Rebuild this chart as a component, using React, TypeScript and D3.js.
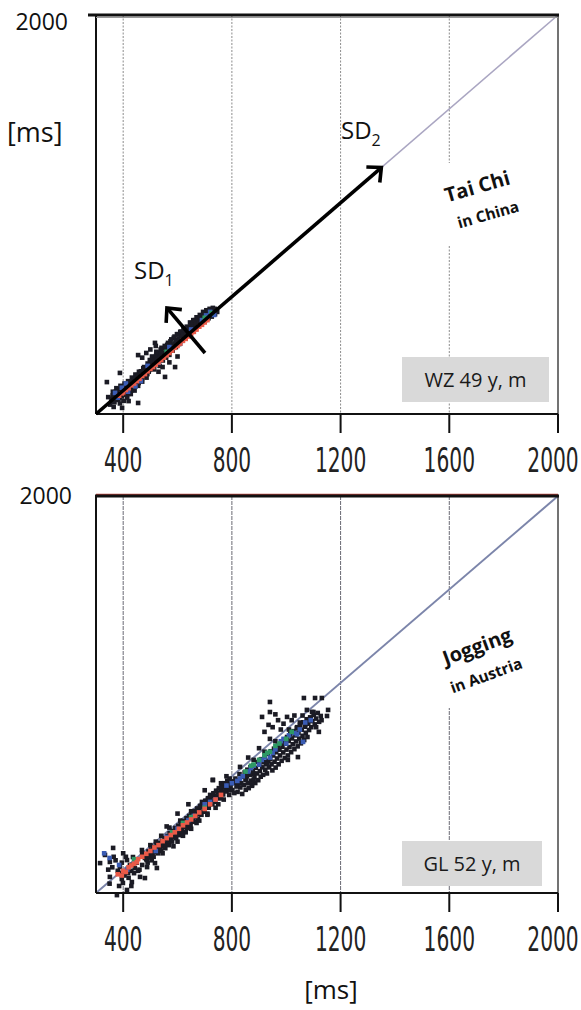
import React, { useEffect, useRef } from 'react'
import * as d3 from 'd3'

const W = 581
const H = 1010

// RR(n) vs RR(n+1) in ms
const rrDomain = [300, 2000]
const xTicks = [400, 800, 1200, 1600, 2000]
const gridValues = [400, 800, 1200, 1600]

const taiChiBeats = [
  [345, 372], [352, 340], [358, 365], [362, 395], [368, 350], [372, 380], [375, 410], [380, 360], [384, 392], [388, 345],
  [390, 420], [395, 375], [398, 402], [402, 356], [405, 430], [408, 388], [412, 410], [415, 370], [418, 440], [420, 398],
  [424, 425], [428, 385], [432, 455], [435, 410], [438, 440], [442, 400], [445, 468], [448, 430], [452, 452], [455, 420],
  [458, 480], [462, 445], [466, 470], [470, 438], [474, 495], [478, 460], [482, 488], [486, 455],
  [340, 436], [388, 475], [396, 326], [455, 347], [455, 551], [517, 603], [554, 458], [591, 500], [365, 330], [420, 355],
  [470, 540], [500, 575], [520, 590], [545, 500], [570, 520], [600, 545], [485, 560], [530, 480],
  [490, 515], [494, 480], [498, 530], [502, 500], [506, 545], [510, 512], [514, 490], [518, 540], [522, 565], [526, 520],
  [530, 550], [534, 505], [538, 575], [542, 545], [546, 528], [550, 580], [554, 560], [558, 540], [562, 595], [566, 575],
  [570, 552], [574, 610], [578, 590], [582, 570], [586, 625], [590, 600], [594, 585], [598, 640], [602, 615], [606, 598],
  [610, 650], [614, 632], [618, 612], [622, 665], [626, 640], [630, 625], [634, 672], [638, 655],
  [642, 640], [646, 690], [650, 668], [654, 650], [658, 700], [662, 680], [666, 662], [670, 712], [674, 695], [678, 675],
  [682, 722], [686, 705], [690, 690], [694, 735], [698, 715], [702, 700], [706, 742], [710, 725], [714, 708], [718, 748],
  [722, 730], [726, 715], [730, 752], [734, 738], [738, 725], [742, 745], [746, 735],
  [356, 352], [361, 378], [367, 363], [373, 395], [378, 372], [383, 405], [387, 366], [393, 389], [397, 418], [401, 381],
  [406, 404], [411, 392], [414, 425], [419, 386], [423, 413], [427, 437], [431, 402], [436, 428], [441, 452], [444, 416],
  [449, 441], [453, 466], [457, 432], [461, 458], [465, 482], [469, 449], [473, 472], [477, 500], [481, 465], [485, 492],
  [489, 470], [493, 505], [497, 488], [501, 520], [505, 498], [509, 531], [513, 508], [517, 525], [521, 548], [525, 532],
  [529, 562], [533, 541], [537, 558], [541, 582], [545, 560], [549, 548], [553, 590], [557, 571], [561, 560], [565, 603],
  [569, 583], [573, 571], [577, 618], [581, 596], [585, 584], [589, 630], [593, 609], [597, 596], [601, 640], [605, 622],
  [609, 610], [613, 651], [617, 628], [621, 642], [625, 657], [629, 636], [633, 660], [637, 646], [641, 670], [645, 655],
  [649, 682], [653, 665], [657, 690], [661, 672], [665, 700], [669, 683], [673, 704], [677, 690], [681, 712], [685, 697],
  [689, 718], [693, 705], [697, 726], [701, 712], [705, 732], [709, 718], [713, 738], [717, 724], [721, 742], [725, 728],
  [729, 745], [733, 730], [737, 748], [741, 736], [744, 742]
]
const taiChiRed = [
  [385, 378], [400, 392], [420, 410], [430, 422], [440, 430], [460, 450], [470, 462], [480, 470], [500, 492], [510, 500],
  [520, 510], [540, 530], [550, 540], [560, 550], [580, 570], [590, 582], [600, 590], [620, 612], [630, 620], [640, 630],
  [660, 650], [670, 660], [680, 672], [690, 680], [700, 690], [710, 700], [395, 388], [410, 402], [450, 440], [490, 482],
  [530, 520], [570, 560], [610, 600], [650, 640]
]
const taiChiBlue = [
  [370, 390], [380, 370], [395, 412], [410, 430], [418, 395], [445, 418], [465, 440], [490, 505], [530, 518], [570, 585],
  [610, 600], [650, 660], [690, 700], [705, 720], [720, 735], [735, 722]
]
const taiChiGreen = [[560, 565], [700, 710], [725, 730]]

const joggingBeats = [
  [363, 493], [333, 463], [315, 428], [351, 433], [388, 411], [414, 441], [436, 454], [469, 484], [517, 428], [524, 407],
  [480, 364], [462, 369], [432, 347], [414, 313], [377, 291], [399, 343], [351, 369], [388, 386], [418, 386], [443, 407],
  [488, 411], [499, 454], [360, 410], [372, 440], [380, 395], [395, 430], [405, 375], [410, 455], [425, 420], [430, 395],
  [450, 430], [455, 395], [470, 420], [485, 445], [395, 360], [420, 365], [440, 385], [460, 400], [345, 400], [365, 455],
  [400, 470], [385, 330], [430, 330], [350, 340],
  [480, 450], [490, 430], [495, 465], [505, 470], [512, 455], [520, 490], [528, 470], [535, 500], [540, 480], [548, 515],
  [555, 492], [560, 530], [568, 505], [575, 545], [580, 520], [588, 555], [595, 535], [600, 570], [608, 548], [615, 585],
  [620, 560], [628, 600], [635, 578], [640, 612], [648, 590], [655, 625], [660, 605], [668, 640], [675, 618], [680, 655],
  [688, 635], [695, 670], [700, 648], [708, 690], [715, 665], [720, 700], [728, 680], [735, 715], [740, 690], [748, 730],
  [755, 705], [760, 742], [768, 722], [775, 755], [780, 735], [788, 768], [795, 748], [800, 778], [505, 440], [545, 470],
  [585, 500], [630, 560], [670, 600], [710, 640], [750, 680], [790, 720], [640, 680], [700, 740], [730, 784], [600, 640],
  [560, 585],
  [600, 520], [620, 545], [650, 575], [680, 610], [710, 635], [740, 665], [770, 700], [790, 740], [610, 610], [650, 650],
  [690, 690], [720, 720], [760, 770], [540, 545], [570, 580], [520, 520], [500, 505], [470, 470], [820, 765], [850, 785],
  [880, 810], [780, 800], [760, 710],
  [483, 462], [487, 441], [493, 478], [498, 452], [503, 486], [508, 463], [511, 497], [516, 475], [523, 506], [527, 484],
  [531, 515], [537, 491], [543, 523], [547, 500], [552, 535], [557, 510], [563, 544], [566, 522], [571, 556], [577, 531],
  [583, 566], [586, 541], [592, 578], [597, 552], [603, 588], [606, 563], [612, 597], [617, 574], [622, 608], [627, 583],
  [633, 620], [637, 594], [643, 630], [646, 604], [652, 641], [657, 616], [662, 651], [666, 626], [672, 662], [677, 638],
  [683, 673], [686, 647], [692, 684], [697, 659], [702, 695], [706, 670], [712, 706], [717, 681], [723, 716], [726, 691],
  [732, 727], [737, 703], [742, 738], [746, 713], [752, 749], [757, 724], [762, 759], [766, 735], [772, 770], [777, 746],
  [783, 781], [786, 756], [792, 790], [797, 767],
  [802, 741], [806, 772], [809, 728], [813, 790], [817, 756], [821, 733], [824, 781], [828, 809], [831, 752], [834, 770],
  [838, 724], [841, 798], [844, 763], [847, 816], [851, 742], [853, 787], [857, 828], [859, 770], [862, 749], [866, 806],
  [868, 838], [871, 781], [874, 759], [877, 822], [879, 846], [883, 797], [886, 771], [888, 836], [892, 812], [894, 861],
  [897, 783], [901, 849], [903, 822], [906, 798], [909, 873], [912, 838], [915, 806], [917, 860], [921, 885], [923, 828],
  [926, 851], [929, 812], [932, 896], [934, 866], [937, 838], [941, 873], [943, 907], [946, 851], [949, 825], [952, 889],
  [955, 918], [957, 862], [961, 837], [963, 903], [966, 876], [969, 931], [972, 851], [975, 914], [977, 889], [981, 944],
  [983, 866], [986, 926], [989, 902], [992, 955], [995, 878], [997, 939], [1001, 914], [1003, 968], [1006, 889], [1009, 951],
  [1012, 925], [1015, 982], [1018, 903], [1021, 962], [1024, 937], [1027, 993], [1030, 916], [1033, 975], [1036, 949], [1039, 1006],
  [1042, 928], [1045, 987], [1048, 961], [1051, 1018], [1054, 941], [1057, 999], [1060, 973], [1063, 1031], [1066, 955], [1069, 1012],
  [1072, 986], [1075, 1044], [1078, 968], [1081, 1025], [1084, 998], [1088, 1052], [1092, 1010], [1096, 1036], [1101, 1063], [1105, 1022],
  [1110, 1047], [1116, 1071], [1121, 1033], [1127, 1058],
  [855, 800], [880, 785], [905, 870], [930, 855], [960, 950], [920, 905], [880, 870], [1040, 1010], [1080, 1040], [1110, 1010],
  [1120, 990], [1130, 1040], [940, 960], [900, 920], [980, 1000], [1020, 1040], [1060, 1060], [1100, 1075], [860, 880], [830, 840],
  [1006, 870], [1043, 882], [920, 990], [950, 1010], [970, 1040], [990, 1025], [1010, 1000], [1030, 1060], [960, 1065], [935, 1020],
  [1050, 1030], [1070, 1020], [1090, 1050],
  [940, 1118], [911, 1054], [940, 1075], [1065, 1135], [1106, 1135], [1131, 1135], [1154, 1084], [1150, 1058], [1076, 1084], [1095, 1075],
  [1003, 1054], [874, 763], [730, 784]
]
const joggingRed = [
  [380, 380], [400, 395], [420, 410], [440, 425], [470, 455], [500, 480], [530, 505], [560, 535], [590, 560], [620, 590],
  [650, 615], [680, 645], [720, 680], [760, 720], [410, 390], [395, 375], [450, 432], [485, 468], [515, 495], [545, 522],
  [575, 548], [605, 575], [635, 602], [665, 630], [700, 660], [740, 700], [430, 418], [455, 445]
]
const joggingBlue = [
  [350, 450], [330, 470], [385, 420], [415, 400], [450, 440], [520, 480], [600, 575], [660, 630], [700, 680], [740, 700],
  [780, 760], [820, 780], [860, 820], [900, 850], [950, 900], [1000, 940], [1050, 1000], [1062, 947], [920, 880], [980, 950],
  [840, 800], [880, 845], [1030, 985], [560, 540], [640, 612], [720, 690], [800, 770], [830, 790], [870, 835], [910, 870],
  [960, 915], [990, 960], [1040, 980], [1070, 1030], [1090, 1040], [940, 880], [1010, 975]
]
const joggingGreen = [
  [440, 445], [620, 600], [700, 665], [900, 870], [920, 890], [940, 905], [960, 930], [880, 850], [1000, 960], [850, 820],
  [870, 845], [930, 900], [975, 940], [1020, 990], [580, 560], [650, 625]
]

const sd2 = [[300, 300], [1350, 1350]]
const sd1 = [[701, 560], [561, 752]]

const FONT = '"Open Sans", "Noto Sans", sans-serif'
const NARROW = '"Liberation Sans Narrow", "DejaVu Sans Condensed", sans-serif'

function arrow (g, x, y, pts) {
  const [a, b] = pts
  const x1 = x(a[0]); const y1 = y(a[1]); const x2 = x(b[0]); const y2 = y(b[1])
  const ang = Math.atan2(y2 - y1, x2 - x1)
  const len = 15
  const spread = Math.PI * 0.24
  g.append('line')
    .attr('x1', x1).attr('y1', y1).attr('x2', x2).attr('y2', y2)
    .attr('stroke', '#000').attr('stroke-width', 3.6)
  g.append('polyline')
    .attr('points', [
      [x2 - len * Math.cos(ang - spread), y2 - len * Math.sin(ang - spread)],
      [x2, y2],
      [x2 - len * Math.cos(ang + spread), y2 - len * Math.sin(ang + spread)]
    ].map(p => p.join(',')).join(' '))
    .attr('fill', 'none').attr('stroke', '#000').attr('stroke-width', 3.6)
    .attr('stroke-linejoin', 'miter')
}

function drawPanel (svg, p) {
  const x = d3.scaleLinear().domain(rrDomain).range([96, 558])
  const y = d3.scaleLinear().domain(rrDomain).range([p.bottom, p.top])
  const g = svg.append('g')

  g.selectAll('line.grid').data(gridValues).join('line')
    .attr('class', 'grid')
    .attr('x1', d => x(d)).attr('x2', d => x(d))
    .attr('y1', y(2000)).attr('y2', y(300))
    .attr('stroke', p.gridColor).attr('stroke-width', 1)
    .attr('stroke-dasharray', p.gridDash)

  // white patch behind the activity label
  g.append('rect')
    .attr('x', 425).attr('y', p.labelBox[0])
    .attr('width', 118).attr('height', p.labelBox[1] - p.labelBox[0])
    .attr('fill', '#fff')

  g.append('line')
    .attr('x1', x(300)).attr('y1', y(300)).attr('x2', x(2000)).attr('y2', y(2000))
    .attr('stroke', p.idColor).attr('stroke-width', p.idWidth)

  const s = 4.6
  const dots = (data, color) => {
    g.append('g').selectAll('rect').data(data).join('rect')
      .attr('x', d => x(d[0]) - s / 2).attr('y', d => y(d[1]) - s / 2)
      .attr('width', s).attr('height', s).attr('fill', color)
  }
  dots(p.beats, '#1b1b24')
  dots(p.blue, '#3a5cb4')
  dots(p.green, '#2e9a66')
  dots(p.red, '#ea5a48')

  // frame
  g.append('line').attr('x1', x(300)).attr('x2', x(300)).attr('y1', p.top).attr('y2', p.bottom)
    .attr('stroke', '#111').attr('stroke-width', 2)
  g.append('line').attr('x1', x(2000)).attr('x2', x(2000)).attr('y1', p.top).attr('y2', p.bottom)
    .attr('stroke', '#444').attr('stroke-width', 1.5)
  g.append('line').attr('x1', x(300)).attr('x2', x(2000)).attr('y1', p.bottom).attr('y2', p.bottom)
    .attr('stroke', '#111').attr('stroke-width', 2)
  g.append('line').attr('x1', x(300)).attr('x2', x(2000)).attr('y1', p.top + p.tintOffset).attr('y2', p.top + p.tintOffset)
    .attr('stroke', p.topTint).attr('stroke-width', 1.2)
  g.append('line').attr('x1', p.topStart).attr('x2', x(2000) + 1).attr('y1', p.top).attr('y2', p.top)
    .attr('stroke', '#111').attr('stroke-width', 3.2)

  g.selectAll('line.tick').data(xTicks).join('line')
    .attr('class', 'tick')
    .attr('x1', d => x(d)).attr('x2', d => x(d))
    .attr('y1', p.bottom).attr('y2', p.bottom + 19)
    .attr('stroke', '#111').attr('stroke-width', 2)

  g.selectAll('g.tl').data(xTicks).join('g')
    .attr('class', 'tl')
    .attr('transform', d => `translate(${Math.min(x(d), 553)},${p.bottom + 58}) scale(0.66,1)`)
    .append('text')
    .attr('text-anchor', 'middle')
    .attr('font-family', NARROW).attr('font-size', 34).attr('fill', '#222')
    .text(d => d)

  g.append('text')
    .attr('x', p.yLabelX).attr('y', p.yLabelBase)
    .attr('text-anchor', 'end')
    .attr('font-family', FONT).attr('font-size', 23).attr('fill', '#111')
    .text('2000')

  const lab = g.append('g')
  lab.append('text')
    .attr('transform', `translate(${p.title[0]},${p.title[1]}) rotate(${p.rot})`)
    .attr('text-anchor', 'middle').attr('dominant-baseline', 'central')
    .attr('font-family', FONT).attr('font-weight', 700).attr('font-size', 20).attr('fill', '#111')
    .text(p.titleText)
  lab.append('text')
    .attr('transform', `translate(${p.sub[0]},${p.sub[1]}) rotate(${p.rot})`)
    .attr('text-anchor', 'middle').attr('dominant-baseline', 'central')
    .attr('font-family', FONT).attr('font-weight', 700).attr('font-size', 15.5).attr('fill', '#111')
    .text(p.subText)

  g.append('rect')
    .attr('x', p.box[0]).attr('y', p.box[1]).attr('width', p.box[2]).attr('height', p.box[3])
    .attr('fill', '#d9d9d9')
  g.append('text')
    .attr('x', p.box[0] + p.box[2] / 2).attr('y', p.box[1] + p.box[3] / 2 + 7)
    .attr('text-anchor', 'middle')
    .attr('font-family', FONT).attr('font-size', 20).attr('fill', '#1a1a1a')
    .text(p.boxText)

  return { g, x, y }
}

const App = () => {
  const svgRef = useRef(null)

  useEffect(() => {
    const svg = d3.select(svgRef.current)
    svg.selectAll('*').remove()

    const top = drawPanel(svg, {
      top: 15,
      bottom: 414,
      topStart: 88,
      topTint: '#9a9a9a',
      tintOffset: 2.5,
      gridColor: '#8c8c8c',
      gridDash: '2,1.5',
      idColor: '#aaa6c2',
      idWidth: 1.6,
      labelBox: [163, 246],
      beats: taiChiBeats,
      red: taiChiRed,
      blue: taiChiBlue,
      green: taiChiGreen,
      yLabelX: 68,
      yLabelBase: 30,
      title: [477, 186],
      sub: [488, 214],
      rot: -16,
      titleText: 'Tai Chi',
      subText: 'in China',
      box: [402, 357, 147, 45],
      boxText: 'WZ 49 y, m'
    })

    arrow(top.g, top.x, top.y, sd2)
    arrow(top.g, top.x, top.y, sd1)

    const sdLabel = (xp, yp, sub) => {
      const t = top.g.append('text')
        .attr('x', xp).attr('y', yp)
        .attr('font-family', FONT).attr('font-size', 24).attr('fill', '#111')
      t.append('tspan').text('SD')
      t.append('tspan').attr('font-size', 16).attr('dy', 7).text(sub)
    }
    sdLabel(134, 279, '1')
    sdLabel(341, 139, '2')

    top.g.append('text')
      .attr('x', 7).attr('y', 142)
      .attr('font-family', FONT).attr('font-size', 27).attr('fill', '#111')
      .text('[ms]')

    const bottom = drawPanel(svg, {
      top: 496,
      bottom: 893,
      topStart: 95,
      topTint: '#b8403a',
      tintOffset: -1.6,
      gridColor: '#6a6a74',
      gridDash: '4,1',
      idColor: '#7c85aa',
      idWidth: 2,
      labelBox: [600, 708],
      beats: joggingBeats,
      red: joggingRed,
      blue: joggingBlue,
      green: joggingGreen,
      yLabelX: 72,
      yLabelBase: 504,
      title: [477, 646],
      sub: [486, 675],
      rot: -20,
      titleText: 'Jogging',
      subText: 'in Austria',
      box: [402, 841, 140, 45],
      boxText: 'GL 52 y, m'
    })

    bottom.g.append('text')
      .attr('x', 331).attr('y', 999)
      .attr('text-anchor', 'middle')
      .attr('font-family', FONT).attr('font-size', 26).attr('fill', '#111')
      .text('[ms]')
  }, [])

  return (
    <svg
      ref={svgRef}
      width={W}
      height={H}
      style={{ position: 'absolute', left: 0, top: 0, background: '#fff' }}
    />
  )
}

export default App
